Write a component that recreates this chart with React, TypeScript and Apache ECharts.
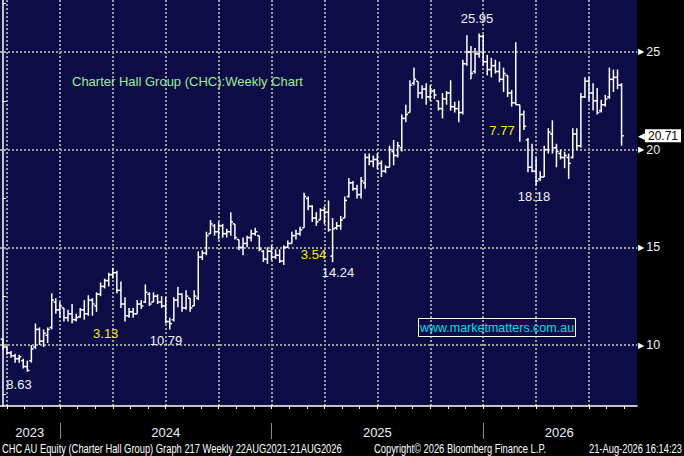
import React, { useEffect, useRef } from "react";
import * as echarts from "echarts";

// Weekly OHLC, Charter Hall Group (CHC), late Sep 2023 .. 21 Aug 2026 (visible window)
const OPEN = [
  10.3, 9.9, 9.6, 9.45, 9.3, 9.2, 8.9, 9.2, 9.9, 10.8, 10.2, 10.5, 10.9, 12.2, 11.8, 11.9, 11.4, 11.6, 11.3, 11.45,
  11.8, 11.6, 12.3, 12.0, 12.6, 13.0, 13.3, 13.6, 13.7, 12.8, 12.1, 11.5, 11.7, 11.6, 12.1, 12.2, 12.6, 12.2, 12.5, 12.2,
  12.0, 11.2, 11.3, 12.3, 12.6, 11.9, 12.4, 12.0, 12.4, 14.5, 14.7, 15.7, 16.1, 15.8, 16.1, 15.7, 15.8, 16.2, 15.4, 15.0,
  15.2, 15.5, 15.7, 15.6, 14.8, 14.4, 14.8, 14.5, 14.6, 14.3, 15.0, 15.2, 15.6, 15.7, 16.0, 17.5, 17.1, 16.5, 16.4, 16.9,
  16.8, 14.55, 16.0, 16.1, 16.5, 17.6, 18.3, 18.0, 17.7, 18.3, 19.6, 19.4, 19.5, 19.3, 18.9, 19.1, 19.9, 19.7, 20.1, 21.6,
  21.9, 23.4, 23.5, 22.9, 23.1, 22.7, 23.0, 22.5, 22.1, 22.6, 22.9, 22.2, 22.1, 21.9, 24.4, 25.0, 24.0, 24.9, 25.8, 24.5,
  24.1, 24.3, 24.0, 23.6, 23.8, 22.9, 22.4, 22.3, 21.8, 20.5, 19.1, 18.9, 18.5, 18.6, 20.0, 20.8, 20.1, 19.8, 19.6, 19.6,
  19.6, 20.8, 20.2, 22.7, 23.5, 22.9, 22.5, 22.0, 22.3, 22.7, 23.6, 23.7, 23.3,
];
const HIGH = [
  10.35, 9.95, 9.7, 9.55, 9.5, 9.3, 9.2, 10.0, 11.1, 10.9, 10.8, 10.9, 12.65, 12.4, 12.2, 11.9, 11.8, 12.1, 11.6, 11.9,
  12.3, 12.55, 12.4, 12.7, 13.2, 13.4, 13.7, 13.95, 13.8, 13.25, 12.45, 11.9, 11.9, 12.3, 12.3, 13.1, 12.7, 12.7, 12.6, 12.5,
  12.45, 11.4, 12.45, 12.97, 12.65, 12.8, 12.4, 12.8, 14.8, 14.85, 15.8, 16.4, 16.2, 16.3, 16.2, 15.95, 16.8, 16.2, 15.4, 15.5,
  15.6, 15.9, 16.0, 15.6, 14.85, 15.0, 15.1, 14.9, 14.9, 15.1, 15.35, 15.8, 15.9, 16.05, 17.8, 17.6, 17.15, 16.8, 17.0, 17.1,
  17.4, 16.5, 16.3, 16.6, 17.6, 18.55, 18.4, 18.2, 18.6, 19.8, 19.8, 19.7, 19.8, 19.45, 19.2, 20.2, 20.5, 20.4, 21.8, 22.3,
  23.55, 24.2, 23.5, 23.3, 23.4, 23.3, 23.1, 22.5, 22.9, 23.0, 23.55, 22.45, 22.5, 24.6, 25.85, 25.3, 25.2, 25.95, 25.9, 24.85,
  24.7, 24.6, 24.5, 24.2, 23.8, 23.05, 25.5, 22.3, 22.0, 20.6, 20.3, 19.6, 18.9, 20.2, 21.1, 21.5, 20.3, 20.0, 19.9, 19.8,
  21.1, 21.1, 22.9, 23.7, 23.7, 23.4, 23.15, 22.55, 22.8, 24.2, 24.1, 24.1, 23.4,
];
const LOW = [
  9.75, 9.5, 9.35, 9.1, 9.1, 8.8, 8.63, 9.1, 9.8, 10.0, 9.9, 10.1, 10.8, 11.6, 11.4, 11.2, 11.2, 11.1, 11.2, 11.4,
  11.3, 11.5, 11.5, 11.7, 12.5, 12.9, 13.0, 13.4, 12.65, 11.9, 11.2, 11.4, 11.4, 11.6, 11.85, 12.15, 12.0, 12.2, 12.1, 11.9,
  11.1, 10.79, 11.2, 11.94, 11.7, 11.8, 11.7, 12.0, 12.3, 14.35, 14.6, 15.7, 15.6, 15.4, 15.5, 15.5, 15.6, 15.4, 14.85, 14.6,
  15.0, 15.3, 15.6, 14.8, 14.25, 14.15, 14.35, 14.4, 14.2, 14.1, 15.0, 15.2, 15.4, 15.6, 16.0, 16.9, 16.3, 16.1, 16.4, 16.2,
  15.8, 14.24, 15.9, 15.9, 16.5, 17.55, 17.9, 17.5, 17.5, 18.0, 19.2, 19.1, 19.0, 18.6, 18.8, 19.1, 19.2, 19.6, 19.9, 21.4,
  21.9, 23.3, 22.65, 22.6, 22.3, 22.5, 22.6, 22.0, 21.6, 22.3, 22.0, 21.9, 21.4, 21.8, 24.3, 23.6, 23.9, 24.7, 24.3, 23.8,
  23.7, 23.9, 23.45, 22.95, 22.7, 22.2, 22.3, 20.4, 21.0, 18.85, 18.85, 18.18, 18.4, 18.6, 19.8, 19.8, 19.1, 19.5, 19.05, 18.5,
  19.55, 20.0, 20.1, 22.65, 22.5, 22.0, 21.8, 21.9, 22.2, 22.6, 22.95, 23.1, 20.2,
];
const CLOSE = [
  9.9, 9.6, 9.45, 9.3, 9.4, 8.9, 8.7, 9.8, 10.8, 10.2, 10.6, 10.8, 12.3, 11.8, 12.0, 11.4, 11.6, 11.3, 11.4, 11.8,
  11.6, 12.3, 12.1, 12.6, 13.0, 13.3, 13.6, 13.7, 12.8, 12.1, 11.5, 11.7, 11.6, 12.1, 12.0, 12.7, 12.1, 12.5, 12.2, 12.0,
  11.2, 11.1, 12.3, 12.6, 11.9, 12.5, 11.9, 12.5, 14.5, 14.7, 15.6, 16.2, 15.8, 16.1, 15.7, 15.8, 16.3, 15.5, 15.0, 15.2,
  15.5, 15.7, 15.8, 14.9, 14.4, 14.8, 14.5, 14.6, 14.3, 15.0, 15.2, 15.6, 15.7, 15.9, 17.6, 17.1, 16.5, 16.3, 16.9, 16.8,
  15.9, 15.95, 16.1, 16.4, 17.4, 18.3, 18.0, 17.7, 18.4, 19.6, 19.4, 19.5, 19.3, 18.9, 19.1, 20.0, 19.7, 20.2, 21.6, 21.8,
  23.3, 23.6, 22.9, 23.1, 22.7, 23.0, 22.8, 22.1, 22.6, 22.9, 22.2, 22.1, 21.9, 24.4, 25.0, 23.9, 24.9, 25.8, 24.5, 24.1,
  24.3, 24.0, 23.6, 23.9, 22.9, 22.4, 22.3, 21.8, 21.2, 19.1, 18.9, 18.4, 18.6, 20.0, 20.9, 20.1, 19.9, 19.6, 19.7, 19.3,
  20.8, 20.2, 22.7, 23.5, 22.9, 22.5, 21.9, 22.3, 22.6, 23.6, 23.7, 23.3, 20.71,
];

// Axis windows (bar index units / price units)
const X_MIN = -0.71;
const X_MAX = 155.8;
const Y_MIN = 6.88;
const Y_MAX = 27.66;

const PRICE_TICKS = [10, 15, 20, 25];
const HALF_TICKS = [7.5, 12.5, 17.5, 22.5, 27.5];
const GRID_WEEKS = [1, 14, 27, 40, 53, 66, 79, 92, 105, 118, 131, 144];
const YEAR_BREAKS = [14, 66, 118];
const YEAR_LABELS = ["2023", "2024", "2025", "2026"];
const YEAR_LABEL_AT = [6.6, 40, 92, 136.7];
const MONTH_TICKS = Array.from({ length: 36 }, (_, n) => 1 + (n * 13) / 3);

const LAST_PRICE = CLOSE[CLOSE.length - 1];

const NAVY = "#0e0c47";
const GRID_GREY = "#9c9c9c";
const LABEL_WHITE = "#eef2ff";
const YELLOW = "#f2f000";
const SANS = "'Liberation Sans', Arial, sans-serif";

export default function App() {
  const ref = useRef<HTMLDivElement>(null);

  useEffect(() => {
    document.body.style.margin = "0";
    document.body.style.background = "#000";
    if (!ref.current) return;
    const chart = echarts.init(ref.current, null, { renderer: "svg" });

    const data = OPEN.map((o, i) => [i, o, HIGH[i], LOW[i], CLOSE[i]]);

    const nearestYear = (v: number) => {
      let best = 0;
      YEAR_LABEL_AT.forEach((p, j) => {
        if (Math.abs(p - v) < Math.abs(YEAR_LABEL_AT[best] - v)) best = j;
      });
      return YEAR_LABELS[best];
    };

    const txt = (
      text: string,
      x: number,
      y: number,
      fill: string,
      size: number,
      align = "center",
      scaleX = 1
    ) => ({
      type: "text",
      x,
      y,
      scaleX,
      silent: true,
      z: 100,
      style: {
        text,
        fill,
        fontSize: size,
        fontFamily: SANS,
        align,
        textAlign: align,
        verticalAlign: "middle",
        textVerticalAlign: "middle",
      },
    });

    const option: any = {
      animation: false,
      backgroundColor: "#000",
      grid: {
        left: 0,
        right: 43,
        top: 0,
        bottom: 50,
        show: true,
        backgroundColor: NAVY,
        borderWidth: 0,
        containLabel: false,
      },
      xAxis: [
        {
          type: "value",
          min: X_MIN,
          max: X_MAX,
          position: "bottom",
          axisLine: { show: true, lineStyle: { color: "#fff", width: 1.5 } },
          axisTick: { show: true, customValues: MONTH_TICKS, length: 3, lineStyle: { color: "#fff", width: 1 } },
          axisLabel: { show: false },
          splitLine: { show: false },
        },
        {
          type: "value",
          min: X_MIN,
          max: X_MAX,
          position: "bottom",
          axisLine: { show: false },
          axisTick: { show: false, customValues: GRID_WEEKS },
          axisLabel: { show: false },
          splitLine: { show: true, lineStyle: { color: GRID_GREY, width: 2, type: [2, 2] } },
        },
        {
          type: "value",
          min: X_MIN,
          max: X_MAX,
          position: "bottom",
          offset: 17,
          axisLine: { show: false },
          axisTick: { show: true, customValues: YEAR_BREAKS, length: 16, lineStyle: { color: "#8a8a8a", width: 1 } },
          axisLabel: {
            show: true,
            customValues: YEAR_LABEL_AT,
            formatter: (v: number) => nearestYear(v),
            color: LABEL_WHITE,
            fontSize: 13,
            fontFamily: SANS,
            margin: 3,
          },
          splitLine: { show: false },
        },
      ],
      yAxis: [
        {
          type: "value",
          min: Y_MIN,
          max: Y_MAX,
          position: "right",
          axisLine: { show: true, lineStyle: { color: "#fff", width: 1.5 } },
          axisTick: { show: false, customValues: PRICE_TICKS },
          axisLabel: {
            show: true,
            customValues: PRICE_TICKS,
            margin: 1,
            formatter: (v: number) => `{t|\u25B6}{n|${v}}`,
            rich: {
              t: { color: "#fff", fontSize: 8, fontFamily: "'DejaVu Sans'", padding: [0, 2, 0, 0], lineHeight: 10 },
              n: { color: LABEL_WHITE, fontSize: 12.5, fontFamily: SANS, lineHeight: 10 },
            },
          },
          splitLine: { show: true, lineStyle: { color: GRID_GREY, width: 2, type: [2, 2] } },
        },
        {
          type: "value",
          min: Y_MIN,
          max: Y_MAX,
          position: "right",
          axisLine: { show: false },
          axisTick: { show: true, customValues: HALF_TICKS, length: 3, lineStyle: { color: "#fff", width: 1 } },
          axisLabel: { show: false },
          splitLine: { show: false },
        },
        {
          type: "value",
          min: Y_MIN,
          max: Y_MAX,
          position: "right",
          axisLine: { show: false },
          axisTick: { show: false, customValues: [LAST_PRICE] },
          axisLabel: {
            show: true,
            customValues: [LAST_PRICE],
            margin: 1,
            formatter: (v: number) => `{a|\u25C0}{b|${v.toFixed(2)}}`,
            rich: {
              a: { color: "#fff", fontSize: 9, fontFamily: "'DejaVu Sans'", lineHeight: 11 },
              b: {
                color: "#000",
                backgroundColor: "#fff",
                fontSize: 12,
                lineHeight: 11,
                fontFamily: SANS,
                padding: [1, 3, 0, 3],
              },
            },
          },
          splitLine: { show: false },
        },
      ],
      series: [
        {
          type: "custom",
          name: "CHC",
          xAxisIndex: 0,
          yAxisIndex: 0,
          data,
          encode: { x: 0, y: [1, 2, 3, 4] },
          clip: true,
          renderItem: (_params: any, api: any) => {
            const k = api.value(0);
            const o = api.coord([k, api.value(1)]);
            const h = api.coord([k, api.value(2)]);
            const l = api.coord([k, api.value(3)]);
            const c = api.coord([k, api.value(4)]);
            const st = { stroke: "#ffffff", lineWidth: 1.5 };
            const w = 2.2;
            return {
              type: "group",
              children: [
                { type: "line", shape: { x1: h[0], y1: h[1], x2: l[0], y2: l[1] }, style: st },
                { type: "line", shape: { x1: o[0] - w, y1: o[1], x2: o[0], y2: o[1] }, style: st },
                { type: "line", shape: { x1: c[0], y1: c[1], x2: c[0] + w, y2: c[1] }, style: st },
              ],
            };
          },
        },
      ],
      graphic: [
        txt("Charter Hall Group (CHC):Weekly Chart", 72, 81.5, "#98ee98", 13, "left"),
        txt("25.95", 477, 18, LABEL_WHITE, 13),
        txt("7.77", 502, 130, YELLOW, 13),
        txt("18.18", 534, 196, LABEL_WHITE, 13),
        txt("3.54", 313.5, 254, YELLOW, 13),
        txt("14.24", 338, 272.5, LABEL_WHITE, 13),
        txt("3.13", 105.7, 333.5, YELLOW, 13),
        txt("10.79", 166, 340.5, LABEL_WHITE, 13),
        txt("8.63", 19, 384, LABEL_WHITE, 13),
        {
          type: "rect",
          silent: true,
          z: 100,
          shape: { x: 418.5, y: 318.5, width: 157, height: 18 },
          style: { fill: "none", stroke: "#fff", lineWidth: 1 },
        },
        txt("www.marketmatters.com.au", 497, 328, "#00dfe8", 12.5),
        txt("CHC AU Equity (Charter Hall Group) Graph 217 Weekly 22AUG2021-21AUG2026", 2, 448.5, "#fff", 12, "left", 0.78),
        txt("Copyright\u00A9 2026 Bloomberg Finance L.P.", 374, 448.5, "#fff", 12, "left", 0.78),
        txt("21-Aug-2026 16:14:23", 682, 448.5, "#fff", 12, "right", 0.78),
      ],
    };

    chart.setOption(option);
    return () => chart.dispose();
  }, []);

  return <div ref={ref} style={{ width: 684, height: 456, background: "#000" }} />;
}
